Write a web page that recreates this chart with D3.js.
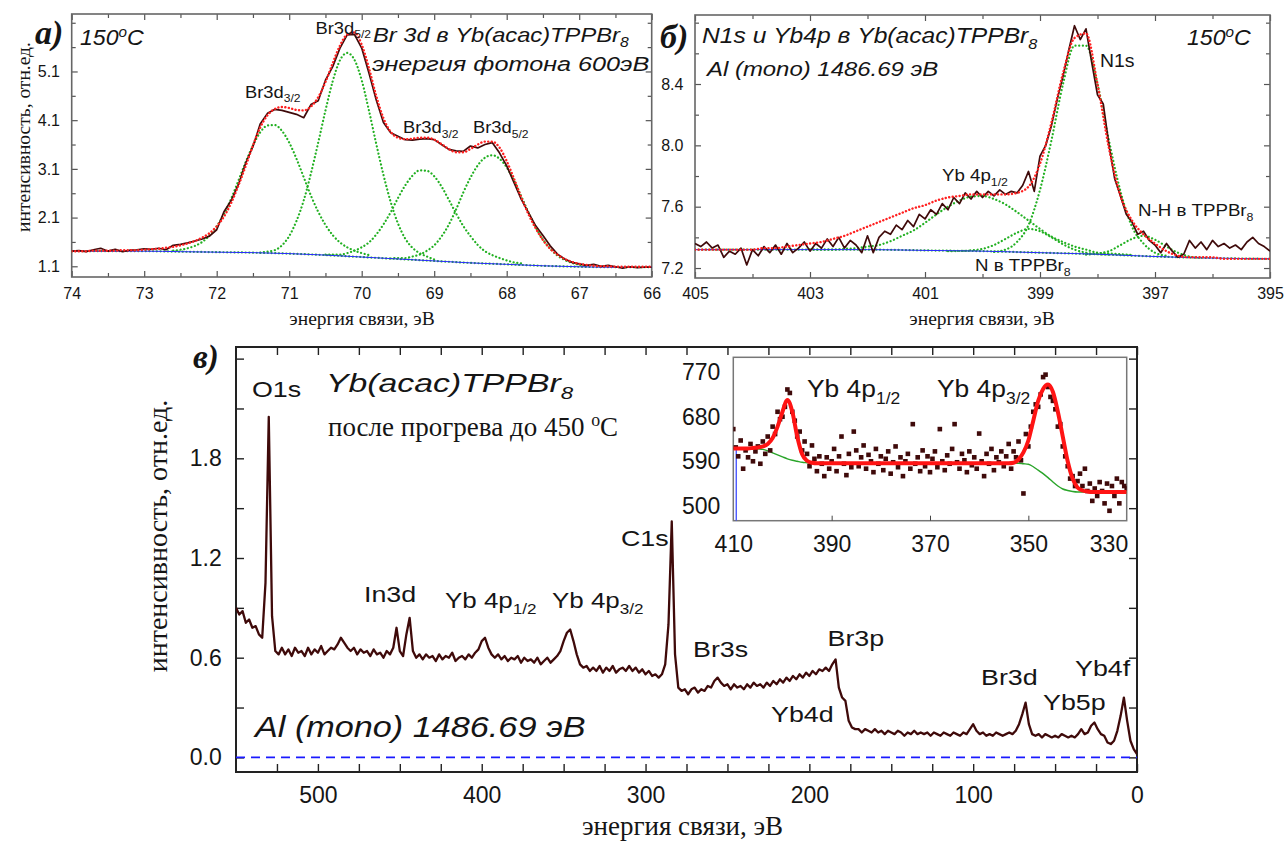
<!DOCTYPE html>
<html>
<head>
<meta charset="utf-8">
<script src="https://cdn.jsdelivr.net/npm/d3@7"></script>
<style>body{margin:0;background:#fff}</style>
</head>
<body>
<div id="chart"></div>
<script>
/* XPS spectra of Yb(acac)TPPBr8, three panels */

// ---------- data: panel а (Br 3d) ----------
const aMeas = [
  1.41,1.42,1.40,1.44,1.47,1.41,1.45,1.40,1.43,1.44,
  1.46,1.45,1.47,1.44,1.53,1.55,1.58,1.62,1.66,1.72,
  1.85,2.22,2.45,2.78,3.22,3.56,4.02,4.24,4.32,4.30,
  4.26,4.22,4.15,4.42,4.50,4.92,5.20,5.58,5.85,5.86,
  5.58,5.07,4.52,4.05,3.84,3.77,3.70,3.69,3.71,3.72,
  3.70,3.60,3.50,3.47,3.46,3.57,3.53,3.60,3.64,3.43,
  3.16,2.82,2.48,2.20,1.93,1.73,1.52,1.35,1.25,1.18,
  1.15,1.12,1.14,1.10,1.12,1.09,1.06,1.09,1.07,1.08,
  1.08];
const aFit = [
  1.41,1.41,1.41,1.42,1.42,1.42,1.42,1.43,1.43,1.43,
  1.44,1.45,1.46,1.48,1.50,1.53,1.57,1.62,1.69,1.78,
  1.92,2.12,2.40,2.76,3.16,3.58,3.95,4.20,4.33,4.37,
  4.35,4.31,4.30,4.38,4.57,4.88,5.27,5.63,5.86,5.90,
  5.65,5.17,4.60,4.14,3.86,3.74,3.71,3.72,3.74,3.74,
  3.70,3.61,3.51,3.44,3.44,3.51,3.60,3.66,3.66,3.54,
  3.26,2.90,2.52,2.17,1.88,1.64,1.46,1.34,1.25,1.19,
  1.15,1.13,1.11,1.10,1.10,1.09,1.09,1.09,1.09,1.09,
  1.09];
const aBg = [1.41,1.41,1.41,1.40,1.39,1.38,1.36,1.33,1.29,1.25,1.21,1.17,1.14,1.11,1.09,1.08,1.08];
const aG1 = [1.42,1.44,1.47,1.52,1.60,1.73,1.92,2.17,2.49,2.86,3.24,3.58,3.85,3.99,4.00,3.88,3.64,3.31,2.93,2.55,2.22,1.95,1.74,1.59,1.49,1.42,1.37,1.33];
const aG2 = [1.38,1.40,1.43,1.53,1.72,2.03,2.45,3.01,3.64,4.30,4.90,5.33,5.48,5.34,4.92,4.30,3.62,2.98,2.42,1.98,1.67,1.48,1.37,1.30,1.24];
const aG3 = [1.34,1.34,1.34,1.37,1.42,1.49,1.59,1.75,1.96,2.21,2.50,2.76,2.96,3.07,3.06,2.95,2.74,2.47,2.19,1.93,1.72,1.54,1.41,1.33,1.27,1.22,1.18,1.16];
const aG4 = [1.26,1.27,1.27,1.30,1.34,1.42,1.53,1.71,1.95,2.26,2.61,2.92,3.17,3.33,3.38,3.31,3.13,2.86,2.54,2.21,1.90,1.65,1.46,1.32,1.23,1.17,1.13,1.11];
const aXMajor = [74,73,72,71,70,69,68,67,66];
const aXMinor = [73.5,72.5,71.5,70.5,69.5,68.5,67.5,66.5];
const aYMajor = [1.1,2.1,3.1,4.1,5.1];
const aYMinor = [1.6,2.6,3.6,4.6,5.6,6.1];

// ---------- data: panel б (N1s, Yb4p) ----------
const bMeas = [
  7.36,7.34,7.37,7.33,7.35,7.27,7.31,7.29,7.33,7.22,
  7.32,7.28,7.34,7.30,7.35,7.29,7.36,7.30,7.33,7.37,
  7.31,7.36,7.33,7.39,7.34,7.40,7.33,7.38,7.35,7.30,
  7.41,7.30,7.40,7.44,7.42,7.48,7.45,7.51,7.47,7.55,
  7.52,7.58,7.55,7.62,7.58,7.66,7.62,7.69,7.65,7.70,
  7.66,7.70,7.67,7.71,7.68,7.70,7.69,7.74,7.83,7.70,
  7.93,8.00,8.13,8.30,8.45,8.62,8.78,8.69,8.76,8.54,
  8.33,8.27,8.00,7.78,7.67,7.55,7.50,7.42,7.44,7.38,
  7.35,7.30,7.36,7.31,7.27,7.29,7.38,7.33,7.37,7.32,
  7.38,7.34,7.36,7.33,7.35,7.32,7.37,7.40,7.36,7.34,
  7.31];
const bFit = [
  7.32,7.32,7.32,7.32,7.32,7.32,7.33,7.33,7.34,7.35,
  7.36,7.37,7.39,7.41,7.44,7.47,7.50,7.53,7.56,7.59,
  7.61,7.64,7.66,7.67,7.68,7.68,7.68,7.68,7.69,7.73,
  7.88,8.15,8.47,8.70,8.73,8.40,7.98,7.67,7.51,7.42,
  7.36,7.31,7.28,7.27,7.27,7.27,7.26,7.26,7.26,7.26,
  7.26];
const bBg = [7.32,7.32,7.32,7.32,7.315,7.31,7.30,7.29,7.275,7.265,7.26];
const bYb = [7.32,7.32,7.32,7.325,7.33,7.34,7.35,7.375,7.41,7.445,7.495,7.55,7.60,7.64,7.665,7.67,7.65,7.615,7.565,7.51,7.455,7.405,7.37,7.34,7.32,7.30,7.295,7.29,7.285];
const bN = [7.31,7.311,7.315,7.325,7.35,7.39,7.43,7.455,7.44,7.40,7.355,7.32,7.30,7.29,7.288];
const bN1s = [7.305,7.32,7.37,7.48,7.71,8.035,8.40,8.65,8.65,8.40,8.03,7.70,7.47,7.36,7.30,7.28];
const bNH = [7.287,7.295,7.31,7.35,7.39,7.41,7.385,7.34,7.30,7.275,7.267];
const bXMajor = [405,403,401,399,397,395];
const bXMinor = [404,402,400,398,396];
const bYMajor = [7.2,7.6,8.0,8.4];
const bYMinor = [7.4,7.8,8.2,8.6,8.8];

// ---------- data: panel в (survey, 550 -> 0 eV, step 2) ----------
const surveyI = [
  0.90,0.86,0.88,0.81,0.83,0.78,0.79,0.74,0.72,1.05,
  2.05,0.85,0.64,0.62,0.66,0.62,0.65,0.61,0.66,0.63,
  0.64,0.61,0.66,0.62,0.65,0.63,0.67,0.62,0.64,0.66,
  0.65,0.68,0.72,0.69,0.66,0.64,0.66,0.62,0.65,0.63,
  0.64,0.61,0.65,0.62,0.63,0.60,0.64,0.62,0.66,0.78,
  0.64,0.61,0.74,0.84,0.64,0.60,0.62,0.59,0.62,0.60,
  0.61,0.58,0.62,0.59,0.61,0.60,0.63,0.58,0.60,0.61,
  0.59,0.62,0.60,0.63,0.65,0.70,0.72,0.66,0.62,0.60,
  0.62,0.59,0.61,0.58,0.60,0.59,0.61,0.57,0.60,0.58,
  0.59,0.57,0.60,0.56,0.58,0.60,0.57,0.59,0.61,0.64,
  0.70,0.75,0.77,0.70,0.62,0.56,0.54,0.55,0.52,0.54,
  0.52,0.55,0.51,0.54,0.52,0.55,0.51,0.53,0.54,0.52,
  0.55,0.52,0.54,0.51,0.53,0.50,0.52,0.49,0.50,0.48,
  0.50,0.56,0.80,1.42,0.62,0.42,0.40,0.41,0.38,0.41,
  0.42,0.39,0.41,0.40,0.43,0.42,0.46,0.48,0.45,0.43,
  0.44,0.41,0.44,0.42,0.43,0.41,0.44,0.42,0.45,0.43,
  0.44,0.42,0.45,0.43,0.46,0.44,0.47,0.45,0.48,0.46,
  0.49,0.47,0.50,0.48,0.51,0.49,0.52,0.50,0.53,0.52,
  0.54,0.52,0.56,0.59,0.42,0.36,0.34,0.22,0.18,0.17,
  0.17,0.15,0.17,0.16,0.15,0.17,0.15,0.16,0.14,0.16,
  0.15,0.14,0.16,0.15,0.13,0.15,0.14,0.16,0.14,0.15,
  0.14,0.15,0.13,0.15,0.14,0.13,0.15,0.14,0.13,0.15,
  0.14,0.13,0.15,0.14,0.17,0.20,0.16,0.14,0.15,0.13,
  0.14,0.13,0.15,0.14,0.13,0.14,0.15,0.14,0.16,0.20,
  0.26,0.33,0.20,0.14,0.13,0.14,0.12,0.14,0.13,0.12,
  0.13,0.12,0.14,0.13,0.12,0.13,0.12,0.14,0.17,0.14,
  0.15,0.19,0.21,0.17,0.14,0.13,0.09,0.08,0.10,0.16,
  0.25,0.36,0.22,0.10,0.05,0.02];
const cXMajor = [500,400,300,200,100,0];
const cXMinor = [525,475,450,425,375,350,325,275,250,225,175,150,125,75,50,25];
const cYMajor = [0.0,0.6,1.2,1.8];
const cYMinor = [0.3,0.9,1.5,2.1,2.4];

// inset: Yb 4p region, 410 -> 330 eV
const insetPts = [
  655,618,600,632,575,612,598,625,590,610,
  620,585,630,605,640,612,660,645,690,675,
  680,700,735,728,690,672,640,650,612,630,
  605,580,622,595,570,600,585,560,598,575,
  590,615,570,600,640,585,562,605,578,650,
  612,580,598,622,575,603,590,568,615,585,
  600,572,595,610,565,588,620,578,598,560,
  590,605,575,665,585,598,570,612,580,600,
  568,595,610,578,655,590,572,602,585,615,
  665,588,575,605,592,568,610,582,598,575,
  646,590,560,605,585,615,572,598,588,610,
  580,600,625,575,610,598,630,592,525,645,
  620,660,690,705,700,725,760,765,740,720,
  712,695,660,665,620,600,580,555,560,540,
  550,565,540,575,530,545,510,535,520,548,
  530,505,545,490,540,520,555,505,548,540,
  535];
const insetFit = [
  616,616,616,616,617,618,620,625,637,660,690,714,690,640,604,591,587,586,586,586,
  586,586,586,586,586,586,586,586,586,586,586,586,586,586,586,586,586,586,586,586,
  586,586,586,586,586,586,586,586,586,586,586,586,586,586,586,586,586,
  587,594,608,632,672,712,736,745,730,690,640,590,555,537,531,529,528,528,528,528,528,528,528,528];
const insetBg = [
  615,615,616,616,616,615,614,611,607,603,599,595,592,590,588,587,586,586,586,586,
  586,586,586,586,586,586,586,586,586,586,586,586,586,586,586,586,586,586,586,586,
  586,586,586,586,586,586,586,586,586,586,586,586,586,586,586,586,586,
  586,586,585,584,579,572,565,557,548,540,534,531,529,528,528,528,528,528,528,528,528,528,528,528];
const insetBlue = [[409.4, 616], [409.4, 470]];
const insetXMajor = [410,390,370,350,330];
const insetYMajor = [500,590,680,770];

// ---------- helpers ----------
const SANS = "'Liberation Sans', Arial, sans-serif";
const SERIF = "'Liberation Serif', 'Times New Roman', serif";
const grid = (start, step, n) => d3.range(n).map(i => +(start + i * step).toFixed(2));
const zip = (es, vs) => vs.map((v, i) => [es[i], v]);

const svg = d3.select("#chart").append("svg")
  .attr("width", 1288).attr("height", 843)
  .style("background", "#fff");

function label(x, y, parts, o = {}) {
  const fs = o.size || 16;
  const t = svg.append("text")
    .attr("transform", `translate(${x},${y}) ${o.rotate ? "rotate(-90)" : ""} scale(${o.sx || 1},1)`)
    .attr("font-family", o.serif ? SERIF : SANS)
    .attr("font-size", fs)
    .attr("font-style", o.italic ? "italic" : null)
    .attr("font-weight", o.bold ? "bold" : null)
    .attr("text-anchor", o.anchor || "start")
    .attr("fill", o.color || "#151515");
  let shift = 0;
  parts.forEach(p => {
    const [s, kind] = Array.isArray(p) ? p : [p, ""];
    const target = kind === "sub" ? fs * 0.28 : kind === "sup" ? -fs * 0.38 : 0;
    t.append("tspan").attr("dy", target - shift)
      .attr("font-size", kind ? fs * 0.66 : fs).text(s);
    shift = target;
  });
  return t;
}

function panel(id, left, top, w, h, xDom, yDom, o) {
  const g = svg.append("g").attr("transform", `translate(${left},${top})`);
  const x = d3.scaleLinear().domain(xDom).range([0, w]);
  const y = d3.scaleLinear().domain(yDom).range([h, 0]);
  svg.append("clipPath").attr("id", id).append("rect").attr("width", w).attr("height", h);

  const put = (gen, tr) => {
    const a = g.append("g").attr("transform", tr).call(gen);
    a.select(".domain").remove();
    a.selectAll("line").attr("stroke", o.tickColor).attr("stroke-width", o.tickW);
    a.attr("font-family", SANS).attr("font-size", o.fs);
    a.selectAll("text").attr("fill", "#151515");
    return a;
  };
  // bottom / left with labels, top / right mirrored, all ticks inward
  put(d3.axisBottom(x).tickValues(o.xMajor).tickSizeInner(-o.len).tickSizeOuter(0)
    .tickPadding(o.padX).tickFormat(o.fmtX), `translate(0,${h})`);
  put(d3.axisBottom(x).tickValues(o.xMinor).tickSizeInner(-o.lenMin).tickSizeOuter(0).tickFormat(""), `translate(0,${h})`);
  put(d3.axisLeft(y).tickValues(o.yMajor).tickSizeInner(-o.len).tickSizeOuter(0)
    .tickPadding(o.padY).tickFormat(o.fmtY), "translate(0,0)");
  put(d3.axisLeft(y).tickValues(o.yMinor).tickSizeInner(-o.lenMin).tickSizeOuter(0).tickFormat(""), "translate(0,0)");
  put(d3.axisTop(x).tickValues(o.xMajor).tickSizeInner(-o.len).tickSizeOuter(0).tickFormat(""), "translate(0,0)");
  put(d3.axisTop(x).tickValues(o.xMinor).tickSizeInner(-o.lenMin).tickSizeOuter(0).tickFormat(""), "translate(0,0)");
  put(d3.axisRight(y).tickValues(o.yMajor).tickSizeInner(-o.len).tickSizeOuter(0).tickFormat(""), `translate(${w},0)`);
  put(d3.axisRight(y).tickValues(o.yMinor).tickSizeInner(-o.lenMin).tickSizeOuter(0).tickFormat(""), `translate(${w},0)`);

  g.append("rect").attr("width", w).attr("height", h)
    .attr("fill", "none").attr("stroke", o.frameColor).attr("stroke-width", o.frameW);
  const plot = g.append("g").attr("clip-path", `url(#${id})`);
  return { g, plot, x, y };
}

function curve(p, pts, style) {
  const line = d3.line().x(d => p.x(d[0])).y(d => p.y(d[1])).curve(style.curve || d3.curveLinear);
  const path = p.plot.append("path").datum(pts)
    .attr("fill", "none").attr("stroke", style.color).attr("stroke-width", style.width)
    .attr("stroke-linejoin", "round")
    .attr("d", line);
  if (style.dots) path.attr("stroke-dasharray", style.dots).attr("stroke-linecap", "round");
  if (style.dash) path.attr("stroke-dasharray", style.dash);
  return path;
}

const BROWN = "#3f0a0a", RED = "#ff2020", GREEN = "#22b022", BLUE = "#2a2aff";

// ---------- panel а ----------
const A = panel("clipA", 71.7, 14, 580, 263, [74, 66], [0.88, 6.28], {
  xMajor: aXMajor, xMinor: aXMinor, yMajor: aYMajor, yMinor: aYMinor,
  len: 6, lenMin: 4, fs: 16, padX: 10.6, padY: 11.7,
  fmtX: d3.format("d"), fmtY: d3.format(".1f"),
  tickColor: "#555", tickW: 1.2, frameColor: "#666", frameW: 1.6
});
const aE = grid(74, -0.1, aMeas.length);
[[aG1, 72.6], [aG2, 71.4], [aG3, 70.5], [aG4, 69.6]].forEach(([vals, e0]) =>
  curve(A, zip(grid(e0, -0.1, vals.length), vals), { color: GREEN, width: 2.2, dots: "0.1,3.6", curve: d3.curveMonotoneX }));
curve(A, zip(grid(74, -0.5, aBg.length), aBg), { color: GREEN, width: 2.2, dots: "0.1,3.6", curve: d3.curveMonotoneX });
curve(A, zip(grid(74, -0.5, aBg.length), aBg), { color: BLUE, width: 1, curve: d3.curveMonotoneX });
curve(A, zip(aE, aMeas), { color: BROWN, width: 1.7 });
curve(A, zip(aE, aFit), { color: RED, width: 2.4, dots: "0.1,3.4", curve: d3.curveMonotoneX });

label(35, 44, ["а)"], { serif: true, bold: true, italic: true, size: 34 });
label(80, 45, ["150", ["o", "sup"], "C"], { italic: true, size: 22, sx: 1.05 });
label(373, 41.5, ["Br 3d в Yb(acac)TPPBr", ["8", "sub"]], { italic: true, size: 21, sx: 1.13 });
label(372, 71, ["энергия фотона 600эВ"], { italic: true, size: 21, sx: 1.2 });
label(315.5, 33.5, ["Br3d", ["5/2", "sub"]], { size: 17, sx: 1.08 });
label(245, 97.5, ["Br3d", ["3/2", "sub"]], { size: 17, sx: 1.08 });
label(403, 133, ["Br3d", ["3/2", "sub"]], { size: 17, sx: 1.08 });
label(473, 133, ["Br3d", ["5/2", "sub"]], { size: 17, sx: 1.08 });
label(362, 325, ["энергия связи, эВ"], { serif: true, size: 19.5, anchor: "middle" });
label(30, 137, ["интенсивность, отн.ед."], { serif: true, size: 19.5, anchor: "middle", rotate: true });

// ---------- panel б ----------
const B = panel("clipB", 695, 15, 575, 263, [405, 395], [7.135, 8.85], {
  xMajor: bXMajor, xMinor: bXMinor, yMajor: bYMajor, yMinor: bYMinor,
  len: 6, lenMin: 4, fs: 16, padX: 9.6, padY: 11.6,
  fmtX: d3.format("d"), fmtY: d3.format(".1f"),
  tickColor: "#555", tickW: 1.2, frameColor: "#666", frameW: 1.6
});
[[bYb, 403.0], [bN, 400.6], [bN1s, 399.8], [bNH, 398.2]].forEach(([vals, e0]) =>
  curve(B, zip(grid(e0, -0.2, vals.length), vals), { color: GREEN, width: 2.2, dots: "0.1,3.6", curve: d3.curveMonotoneX }));
curve(B, zip(grid(405, -1, bBg.length), bBg), { color: GREEN, width: 2.2, dots: "0.1,3.6", curve: d3.curveMonotoneX });
curve(B, zip(grid(405, -1, bBg.length), bBg), { color: BLUE, width: 1, curve: d3.curveMonotoneX });
curve(B, zip(grid(405, -0.1, bMeas.length), bMeas), { color: BROWN, width: 1.7 });
curve(B, zip(grid(405, -0.2, bFit.length), bFit), { color: RED, width: 2.4, dots: "0.1,3.4", curve: d3.curveMonotoneX });

label(660, 48, ["б)"], { serif: true, bold: true, italic: true, size: 34 });
label(702, 42.5, ["N1s и Yb4p в Yb(acac)TPPBr", ["8", "sub"]], { italic: true, size: 22, sx: 1.12 });
label(707, 76, ["Al (mono) 1486.69 эВ"], { italic: true, size: 21, sx: 1.14 });
label(1187, 45, ["150", ["o", "sup"], "C"], { italic: true, size: 22, sx: 1.05 });
label(1100, 66.5, ["N1s"], { size: 18, sx: 1.08 });
label(942, 181, ["Yb 4p", ["1/2", "sub"]], { size: 17, sx: 1.1 });
label(1138, 216, ["N-H в TPPBr", ["8", "sub"]], { size: 17, sx: 1.1 });
label(975, 271, ["N в TPPBr", ["8", "sub"]], { size: 17, sx: 1.1 });
label(982, 325, ["энергия связи, эВ"], { serif: true, size: 19.5, anchor: "middle" });

// ---------- panel в ----------
const C = panel("clipC", 236, 347, 901, 425, [550, 0], [-0.088, 2.47], {
  xMajor: cXMajor, xMinor: cXMinor, yMajor: cYMajor, yMinor: cYMinor,
  len: 8, lenMin: 8, fs: 23, padX: 14.7, padY: 14.3,
  fmtX: d3.format("d"), fmtY: d3.format(".1f"),
  tickColor: "#222", tickW: 1.4, frameColor: "#222", frameW: 2
});
curve(C, [[550, 0], [0, 0]], { color: "#1a1aff", width: 1.6, dash: "9,6" });
curve(C, zip(grid(550, -2, surveyI.length), surveyI), { color: BROWN, width: 2.3 });

label(193, 368, ["в)"], { serif: true, bold: true, italic: true, size: 33 });
label(252, 397, ["O1s"], { size: 22, sx: 1.22 });
label(326, 392, ["Yb(acac)TPPBr", ["8", "sub"]], { italic: true, size: 26, sx: 1.3 });
label(328, 436, ["после прогрева до 450 ", ["o", "sup"], "C"], { serif: true, size: 27 });
label(255, 737, ["Al (mono) 1486.69 эВ"], { italic: true, size: 29, sx: 1.18 });
label(364, 602, ["In3d"], { size: 22, sx: 1.22 });
label(445, 607.5, ["Yb 4p", ["1/2", "sub"]], { size: 22, sx: 1.18 });
label(552, 607.5, ["Yb 4p", ["3/2", "sub"]], { size: 22, sx: 1.18 });
label(621, 545.5, ["C1s"], { size: 22, sx: 1.22 });
label(693, 657, ["Br3s"], { size: 22, sx: 1.22 });
label(827.5, 646, ["Br3p"], { size: 22, sx: 1.22 });
label(771, 722, ["Yb4d"], { size: 22, sx: 1.22 });
label(981, 685, ["Br3d"], { size: 22, sx: 1.22 });
label(1043, 710, ["Yb5p"], { size: 22, sx: 1.22 });
label(1075, 676, ["Yb4f"], { size: 22, sx: 1.22 });
label(682.5, 835, ["энергия связи, эВ"], { serif: true, size: 27, anchor: "middle" });
label(167, 536, ["интенсивность, отн.ед."], { serif: true, size: 28, anchor: "middle", rotate: true });

// ---------- inset ----------
const iL = 733.3, iT = 357.3, iW = 393.4, iH = 163.4;
svg.append("rect").attr("x", iL).attr("y", iT).attr("width", iW).attr("height", iH).attr("fill", "#fff");
const I = panel("clipI", iL, iT, iW, iH, [410, 330], [470, 800], {
  xMajor: insetXMajor, xMinor: [], yMajor: insetYMajor, yMinor: [],
  len: 0, lenMin: 0, fs: 23, padX: 15, padY: 13,
  fmtX: d3.format("d"), fmtY: d3.format("d"),
  tickColor: "#444", tickW: 1.2, frameColor: "#777", frameW: 1.5
});
// only inward bottom ticks on the inset
I.g.append("g").attr("transform", `translate(0,${iH})`)
  .call(d3.axisBottom(I.x).tickValues([390, 370, 350]).tickSizeInner(-5).tickSizeOuter(0).tickFormat(""))
  .call(a => a.select(".domain").remove())
  .selectAll("line").attr("stroke", "#444");
I.g.selectAll("text").filter(function () { return this.textContent === "330"; })
  .attr("text-anchor", "end").attr("x", 1);

curve(I, insetBlue, { color: "#3b4bff", width: 1.3 });
curve(I, zip(grid(410, -1, insetBg.length), insetBg), { color: "#2aa52a", width: 1.4, curve: d3.curveMonotoneX });
I.plot.selectAll("rect.pt").data(zip(grid(410, -0.5, insetPts.length), insetPts)).join("rect")
  .attr("class", "pt")
  .attr("x", d => I.x(d[0]) - 2.3).attr("y", d => I.y(d[1]) - 2.3)
  .attr("width", 4.6).attr("height", 4.6).attr("fill", "#3f0a0a");
curve(I, zip(grid(410, -1, insetFit.length), insetFit), { color: "#ff1414", width: 4, curve: d3.curveMonotoneX });

label(807, 397, ["Yb 4p", ["1/2", "sub"]], { size: 24, sx: 1.1 });
label(937, 397, ["Yb 4p", ["3/2", "sub"]], { size: 24, sx: 1.1 });
</script>
</body>
</html>
